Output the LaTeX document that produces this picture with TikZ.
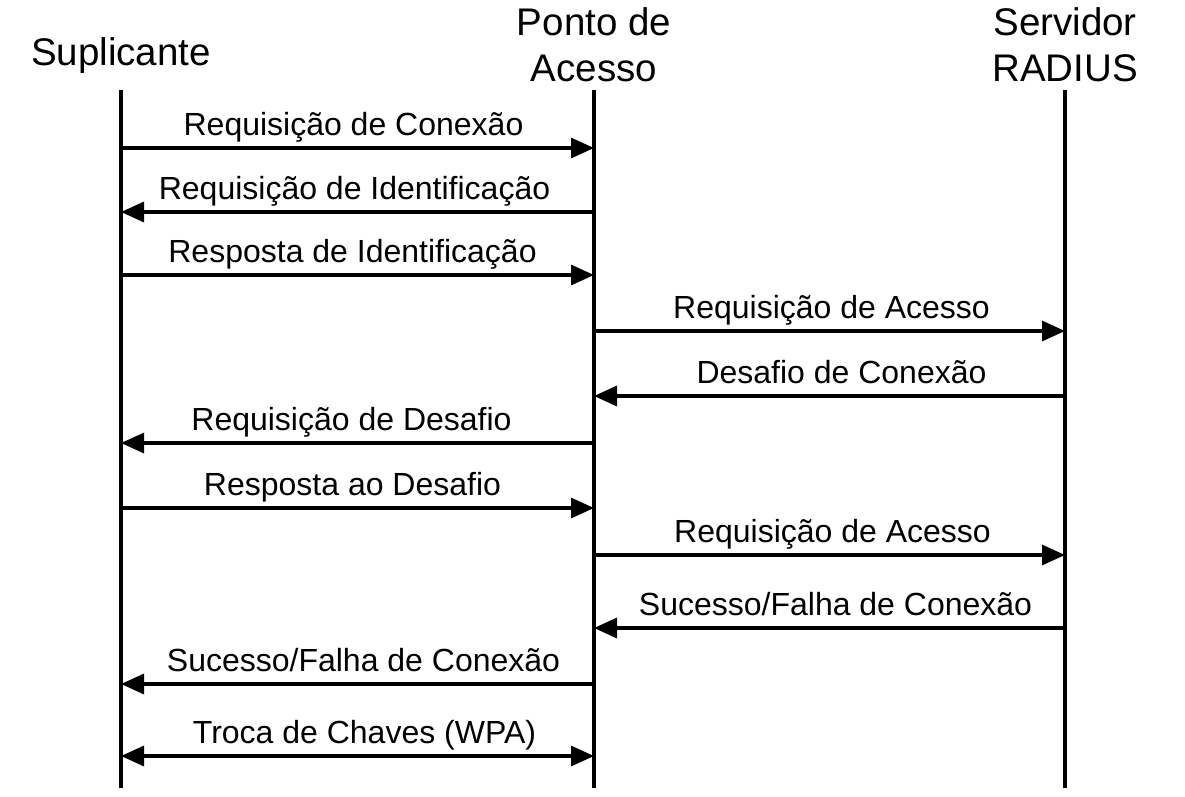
\documentclass[tikz,border=0pt]{standalone}
\usepackage{fontspec}
\setmainfont{Liberation Sans}
\usetikzlibrary{arrows.meta}
\tikzset{
  life/.style={line width=3.2pt},
  msg/.style={line width=3.2pt,-{Triangle[length=23pt,width=20pt]}},
  msgboth/.style={line width=3.2pt,{Triangle[length=23pt,width=20pt]}-{Triangle[length=23pt,width=20pt]}},
  lbl/.style={font=\fontsize{32}{36}\selectfont,anchor=base,inner sep=0pt,yshift=13pt},
  head/.style={font=\fontsize{38.5}{46}\selectfont,anchor=base,inner sep=0pt,align=center}
}
\begin{document}
\begin{tikzpicture}[x=1pt,y=-1pt]
\useasboundingbox (0,0) rectangle (1185,796);
% headers
\node[head] (hS) at (121,65) {Suplicante};
\node[head] (hA) at (594,81) {Ponto de\\Acesso};
\node[head] (hR) at (1065,81) {Servidor\\RADIUS};
% lifelines
\coordinate (sT) at (121,90);  \coordinate (sB) at (121,788);
\coordinate (aT) at (594,90);  \coordinate (aB) at (594,788);
\coordinate (rT) at (1065,90); \coordinate (rB) at (1065,788);
\draw[life] (sT) -- (sB);
\draw[life] (aT) -- (aB);
\draw[life] (rT) -- (rB);
% messages
\foreach \y/\a/\b/\dx/\t in {
  148/sT/aT/-4/{Requisição de Conexão},
  212/aT/sT/-3/{Requisição de Identificação},
  275/sT/aT/-5/{Resposta de Identificação},
  331/aT/rT/2/{Requisição de Acesso},
  396/rT/aT/12/{Desafio de Conexão},
  443/aT/sT/-6/{Requisição de Desafio},
  508/sT/aT/-5/{Resposta ao Desafio},
  555/aT/rT/3/{Requisição de Acesso},
  628/rT/aT/6/{Sucesso/Falha de Conexão},
  684/aT/sT/6/{Sucesso/Falha de Conexão}}
{
  \draw[msg] (\a |- 0,\y) -- (\b |- 0,\y) node[pos=0.5,lbl,xshift=\dx pt] {\t};
}
\draw[msgboth] (sT |- 0,756) -- (aT |- 0,756) node[pos=0.5,lbl,xshift=7pt] {Troca de Chaves (WPA)};
\end{tikzpicture}
\end{document}
